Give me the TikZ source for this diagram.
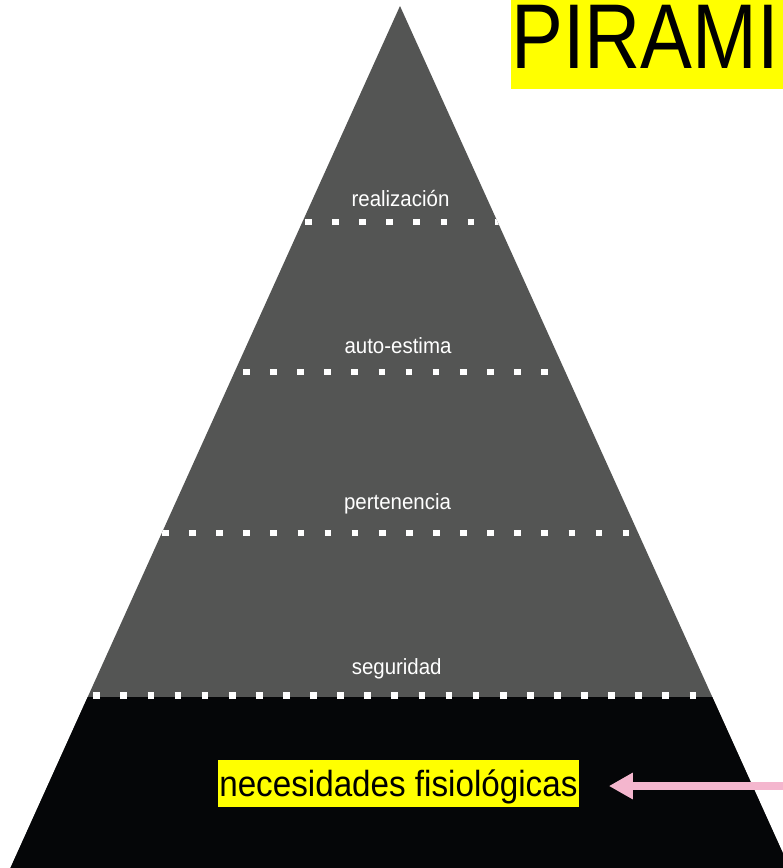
\documentclass[tikz,border=0pt]{standalone}
\usepackage{fontspec}
\setmainfont{Liberation Sans}
\newfontfamily\narrowfont[FakeStretch=0.93]{Liberation Sans}
\newfontfamily\bottomfont[FakeStretch=0.915]{Liberation Sans}
\newfontfamily\titlefont[FakeStretch=0.845]{Liberation Sans}
\usetikzlibrary{arrows.meta}
\definecolor{pyrgray}{RGB}{84,85,84}
\definecolor{pyrblack}{RGB}{5,6,8}
\definecolor{arrowpink}{RGB}{244,182,206}
\definecolor{hlyellow}{RGB}{255,255,0}
\tikzset{
  dotline/.style={white, line width=6.7pt, dash pattern=on 6.7pt off 20.4pt},
  levellabel/.style={text=white, anchor=base, inner sep=0pt, font=\narrowfont\fontsize{22}{26}\selectfont},
  pinkarrow/.style={arrowpink, line width=8pt, -{Triangle[length=24pt,width=25pt]}}
}
\begin{document}
\begin{tikzpicture}[x=1pt,y=-1pt]
\clip (0,0) rectangle (783,868);
\fill[white] (0,0) rectangle (783,868);
% pyramid
\fill[pyrgray] (400,6) -- (10.4,868) -- (789.6,868) -- cycle;
\fill[pyrblack] (87.7,697) -- (10.4,868) -- (789.6,868) -- (712.3,697) -- cycle;
% dotted separators
\begin{scope}
\clip (400,6) -- (10.4,868) -- (789.6,868) -- cycle;
\draw[dotline] (305,222) -- (499,222);
\draw[dotline] (243,372) -- (549,372);
\draw[dotline] (162,533) -- (630,533);
\draw[dotline] (93.3,695.5) -- (712,695.5);
\end{scope}
% level labels
\node[levellabel] (real) at (400.5,206.7) {realización};
\node[levellabel] (auto) at (398,353.3) {auto-estima};
\node[levellabel] (pert) at (397.5,509.7) {pertenencia};
\node[levellabel] (segu) at (396.7,674) {seguridad};
% bottom label
\node[fill=hlyellow, minimum width=361.3pt, minimum height=46.7pt, inner sep=0pt] (necbox) at (398.4,783.3) {};
\node[anchor=base, inner sep=0pt, font=\bottomfont\fontsize{36.3}{40}\selectfont] (nec) at (398.4,796.7) {necesidades fisiológicas};
% title
\node[fill=hlyellow, minimum width=272pt, minimum height=88.3pt, inner sep=0pt, anchor=north west] (titlebox) at (511,0) {};
\node[anchor=base west, inner sep=0pt, font=\titlefont\fontsize{92}{100}\selectfont] (title) at (511,68.3) {PIRAMI};
% arrow
\coordinate (arrowstart) at (790,786);
\draw[pinkarrow] (arrowstart) -- ([xshift=29.6pt,yshift=-2.7pt]necbox.east);
\end{tikzpicture}
\end{document}
